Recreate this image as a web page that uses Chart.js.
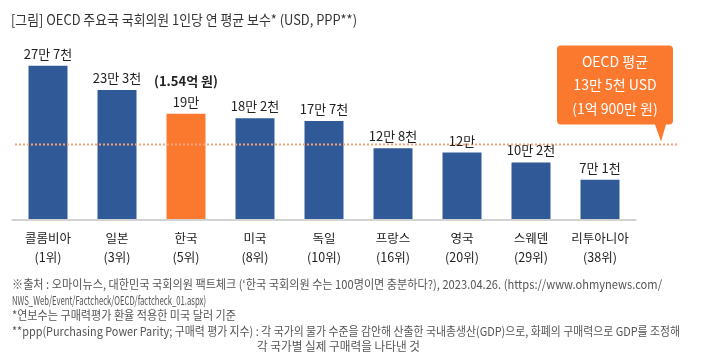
<!DOCTYPE html>
<html>
<head>
<meta charset="utf-8">
<script src="https://cdn.jsdelivr.net/npm/chart.js@4.4.1/dist/chart.umd.min.js"></script>
<style>
  html, body { margin: 0; padding: 0; background: #fff; }
  body { width: 704px; height: 364px; position: relative; overflow: hidden; font-family: "Noto Sans CJK KR", sans-serif; }
  #wrap { position: absolute; left: 0; top: 0; width: 704px; height: 364px; }
  .fit { position: absolute; white-space: nowrap; transform-origin: left center; line-height: 16px; }
  .title { font-size: 14px; color: #333; }
  .note { font-size: 12px; color: #555; }
</style>
</head>
<body>
<div id="wrap"><canvas id="chart"></canvas></div>

<span class="fit title" style="left:11px;top:11px" data-w="346">[그림] OECD 주요국 국회의원 1인당 연 평균 보수* (USD, PPP**)</span>

<span class="fit note" style="left:12px;top:276px" data-w="650">※출처 : 오마이뉴스, 대한민국 국회의원 팩트체크 (‘한국 국회의원 수는 100명이면 충분하다?), 2023.04.26. (https://www.ohmynews.com/</span>
<span class="fit note" style="left:12px;top:292px" data-w="194">NWS_Web/Event/Factcheck/OECD/factcheck_01.aspx)</span>
<span class="fit note" style="left:12px;top:307px" data-w="224">*연보수는 구매력평가 환율 적용한 미국 달러 기준</span>
<span class="fit note" style="left:12px;top:323px" data-w="668">**ppp(Purchasing Power Parity; 구매력 평가 지수) : 각 국가의 물가 수준을 감안해 산출한 국내총생산(GDP)으로, 화폐의 구매력으로 GDP를 조정해</span>
<span class="fit note" style="left:257px;top:338px" data-w="163">각 국가별 실제 구매력을 나타낸 것</span>

<script>
// values in thousand USD (PPP)
const countries = ['콜롬비아', '일본', '한국', '미국', '독일', '프랑스', '영국', '스웨덴', '리투아니아'];
const ranks = ['(1위)', '(3위)', '(5위)', '(8위)', '(10위)', '(16위)', '(20위)', '(29위)', '(38위)'];
const salaries = [277, 233, 190, 182, 177, 128, 120, 102, 71];
const valueLabels = ['27만 7천', '23만 3천', '19만', '18만 2천', '17만 7천', '12만 8천', '12만', '10만 2천', '7만 1천'];
const oecdAvg = 135;
const calloutLines = ['OECD 평균', '13만 5천 USD', '(1억 900만 원)'];
const koreaNote = '(1.54억 원)';

const BLUE = '#2f5a97';
const ORANGE = '#fb782f';
const FONT = '"Noto Sans CJK KR", sans-serif';

const barColors = countries.map(c => c === '한국' ? ORANGE : BLUE);

const labelsPlugin = {
  id: 'labels',
  afterDatasetsDraw(chart) {
    const { ctx, chartArea, scales } = chart;
    const meta = chart.getDatasetMeta(0);
    ctx.save();

    // baseline
    ctx.fillStyle = '#d2d2d2';
    ctx.fillRect(chartArea.left - 2, chartArea.bottom, chartArea.right - chartArea.left + 4, 2);

    // OECD average dotted line
    const ly = Math.round(scales.y.getPixelForValue(oecdAvg)) + 0.5;
    ctx.strokeStyle = '#f5a47c';
    ctx.lineWidth = 2;
    ctx.setLineDash([2, 2]);
    ctx.beginPath();
    ctx.moveTo(15, ly);
    ctx.lineTo(678, ly);
    ctx.stroke();
    ctx.setLineDash([]);

    // value labels + category labels
    ctx.textAlign = 'center';
    ctx.textBaseline = 'middle';
    meta.data.forEach((bar, i) => {
      ctx.fillStyle = '#222';
      ctx.font = '13px ' + FONT;
      ctx.fillText(valueLabels[i], bar.x, bar.y - 12);
      if (countries[i] === '한국') {
        ctx.font = 'bold 13px ' + FONT;
        ctx.fillText(koreaNote, bar.x, bar.y - 33);
      }
      ctx.font = '12.5px ' + FONT;
      ctx.fillText(countries[i], bar.x, chartArea.bottom + 19);
      ctx.fillText(ranks[i], bar.x, chartArea.bottom + 38);
    });

    // callout
    const bx = 557, bw = 116, by = ly - 99, bh = 79, r = 4;
    const tipX = 661;
    ctx.fillStyle = ORANGE;
    ctx.beginPath();
    ctx.moveTo(bx + r, by);
    ctx.lineTo(bx + bw - r, by);
    ctx.quadraticCurveTo(bx + bw, by, bx + bw, by + r);
    ctx.lineTo(bx + bw, by + bh - r);
    ctx.quadraticCurveTo(bx + bw, by + bh, bx + bw - r, by + bh);
    ctx.lineTo(tipX + 5, by + bh);
    ctx.lineTo(tipX, ly - 3);
    ctx.lineTo(tipX - 6, by + bh);
    ctx.lineTo(bx + r, by + bh);
    ctx.quadraticCurveTo(bx, by + bh, bx, by + bh - r);
    ctx.lineTo(bx, by + r);
    ctx.quadraticCurveTo(bx, by, bx + r, by);
    ctx.closePath();
    ctx.fill();

    ctx.fillStyle = '#fff';
    ctx.font = '14px ' + FONT;
    calloutLines.forEach((t, i) => {
      ctx.fillText(t, bx + bw / 2, by + 16 + i * 23.5);
    });

    ctx.restore();
  }
};

new Chart(document.getElementById('chart'), {
  type: 'bar',
  data: {
    labels: countries,
    datasets: [{
      data: salaries,
      backgroundColor: barColors,
      borderWidth: 0,
      barPercentage: 0.565,
      categoryPercentage: 1.0
    }]
  },
  options: {
    responsive: true,
    maintainAspectRatio: false,
    animation: false,
    layout: { padding: { left: 13.5, right: 69.5, top: 53, bottom: 145 } },
    plugins: { legend: { display: false }, tooltip: { enabled: false } },
    scales: {
      x: { display: false },
      y: { display: false, min: 0, max: 300 }
    }
  },
  plugins: [labelsPlugin]
});

// squeeze the html text lines to the widths in the picture
document.querySelectorAll('.fit').forEach(el => {
  const w = el.getBoundingClientRect().width;
  const target = Number(el.dataset.w);
  if (w > 0) el.style.transform = 'scaleX(' + (target / w) + ')';
});
</script>
</body>
</html>
